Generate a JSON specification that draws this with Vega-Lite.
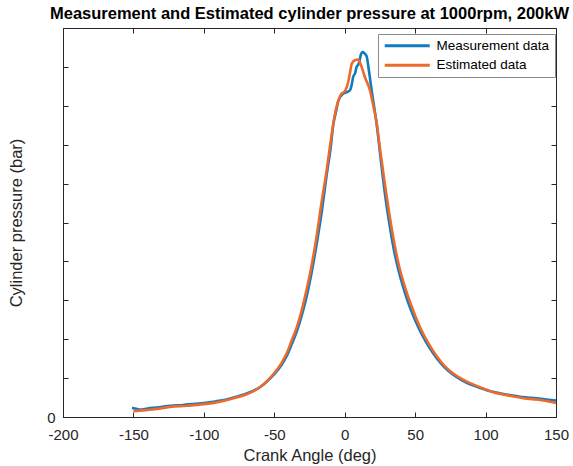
{
  "$schema": "https://vega.github.io/schema/vega-lite/v6.json",
  "autosize": {"type": "none"},
  "width": 493,
  "height": 389,
  "padding": {"left": 63, "top": 28, "right": 17, "bottom": 49},
  "background": "white",
  "title": {
    "text": "Measurement and Estimated cylinder pressure at 1000rpm, 200kW",
    "font": "Liberation Sans",
    "fontSize": 16.5,
    "fontWeight": "bold",
    "color": "black",
    "anchor": "middle",
    "offset": 5.5
  },
  "config": {
    "view": {"stroke": "#262626", "strokeWidth": 1},
    "axis": {
      "grid": false,
      "minExtent": 0,
      "domainColor": "#262626",
      "tickColor": "#262626",
      "labelColor": "#262626",
      "titleColor": "#262626",
      "labelFont": "Liberation Sans",
      "titleFont": "Liberation Sans",
      "labelFontSize": 15,
      "titleFontSize": 16.5,
      "titleFontWeight": "normal",
      "labelFlush": false,
      "labelOverlap": false
    }
  },
  "data": {
    "values": [
      {"angle": -151, "pressure": 0.24, "series": "Measurement data"},
      {"angle": -148, "pressure": 0.21, "series": "Measurement data"},
      {"angle": -145, "pressure": 0.19, "series": "Measurement data"},
      {"angle": -140, "pressure": 0.22, "series": "Measurement data"},
      {"angle": -132, "pressure": 0.25, "series": "Measurement data"},
      {"angle": -124, "pressure": 0.29, "series": "Measurement data"},
      {"angle": -115, "pressure": 0.31, "series": "Measurement data"},
      {"angle": -108, "pressure": 0.33, "series": "Measurement data"},
      {"angle": -100, "pressure": 0.36, "series": "Measurement data"},
      {"angle": -92, "pressure": 0.40, "series": "Measurement data"},
      {"angle": -84, "pressure": 0.45, "series": "Measurement data"},
      {"angle": -77, "pressure": 0.52, "series": "Measurement data"},
      {"angle": -70, "pressure": 0.60, "series": "Measurement data"},
      {"angle": -65, "pressure": 0.67, "series": "Measurement data"},
      {"angle": -60, "pressure": 0.77, "series": "Measurement data"},
      {"angle": -55, "pressure": 0.92, "series": "Measurement data"},
      {"angle": -50, "pressure": 1.10, "series": "Measurement data"},
      {"angle": -45, "pressure": 1.33, "series": "Measurement data"},
      {"angle": -41, "pressure": 1.58, "series": "Measurement data"},
      {"angle": -37.5, "pressure": 1.88, "series": "Measurement data"},
      {"angle": -34, "pressure": 2.20, "series": "Measurement data"},
      {"angle": -31, "pressure": 2.55, "series": "Measurement data"},
      {"angle": -28, "pressure": 2.95, "series": "Measurement data"},
      {"angle": -24, "pressure": 3.62, "series": "Measurement data"},
      {"angle": -20, "pressure": 4.43, "series": "Measurement data"},
      {"angle": -16, "pressure": 5.35, "series": "Measurement data"},
      {"angle": -12.9, "pressure": 6.20, "series": "Measurement data"},
      {"angle": -10, "pressure": 6.92, "series": "Measurement data"},
      {"angle": -8.2, "pressure": 7.50, "series": "Measurement data"},
      {"angle": -6, "pressure": 7.88, "series": "Measurement data"},
      {"angle": -4.6, "pressure": 8.12, "series": "Measurement data"},
      {"angle": -1.1, "pressure": 8.31, "series": "Measurement data"},
      {"angle": 1.5, "pressure": 8.35, "series": "Measurement data"},
      {"angle": 3.7, "pressure": 8.40, "series": "Measurement data"},
      {"angle": 5, "pressure": 8.55, "series": "Measurement data"},
      {"angle": 6, "pressure": 8.74, "series": "Measurement data"},
      {"angle": 7.5, "pressure": 8.85, "series": "Measurement data"},
      {"angle": 8.4, "pressure": 9.00, "series": "Measurement data"},
      {"angle": 9.5, "pressure": 9.05, "series": "Measurement data"},
      {"angle": 10.5, "pressure": 9.15, "series": "Measurement data"},
      {"angle": 11.5, "pressure": 9.32, "series": "Measurement data"},
      {"angle": 12.7, "pressure": 9.38, "series": "Measurement data"},
      {"angle": 14, "pressure": 9.35, "series": "Measurement data"},
      {"angle": 15.5, "pressure": 9.28, "series": "Measurement data"},
      {"angle": 17.2, "pressure": 8.90, "series": "Measurement data"},
      {"angle": 19.1, "pressure": 8.40, "series": "Measurement data"},
      {"angle": 22.6, "pressure": 7.55, "series": "Measurement data"},
      {"angle": 26.2, "pressure": 6.43, "series": "Measurement data"},
      {"angle": 29, "pressure": 5.62, "series": "Measurement data"},
      {"angle": 32, "pressure": 4.90, "series": "Measurement data"},
      {"angle": 35, "pressure": 4.28, "series": "Measurement data"},
      {"angle": 38, "pressure": 3.80, "series": "Measurement data"},
      {"angle": 41, "pressure": 3.40, "series": "Measurement data"},
      {"angle": 44, "pressure": 3.05, "series": "Measurement data"},
      {"angle": 48, "pressure": 2.66, "series": "Measurement data"},
      {"angle": 52, "pressure": 2.33, "series": "Measurement data"},
      {"angle": 55.7, "pressure": 2.06, "series": "Measurement data"},
      {"angle": 60, "pressure": 1.79, "series": "Measurement data"},
      {"angle": 65.3, "pressure": 1.51, "series": "Measurement data"},
      {"angle": 71, "pressure": 1.27, "series": "Measurement data"},
      {"angle": 77, "pressure": 1.09, "series": "Measurement data"},
      {"angle": 83, "pressure": 0.95, "series": "Measurement data"},
      {"angle": 89, "pressure": 0.84, "series": "Measurement data"},
      {"angle": 95, "pressure": 0.76, "series": "Measurement data"},
      {"angle": 100.8, "pressure": 0.69, "series": "Measurement data"},
      {"angle": 106, "pressure": 0.64, "series": "Measurement data"},
      {"angle": 112.6, "pressure": 0.59, "series": "Measurement data"},
      {"angle": 118, "pressure": 0.56, "series": "Measurement data"},
      {"angle": 124.4, "pressure": 0.52, "series": "Measurement data"},
      {"angle": 130, "pressure": 0.50, "series": "Measurement data"},
      {"angle": 136, "pressure": 0.48, "series": "Measurement data"},
      {"angle": 143, "pressure": 0.45, "series": "Measurement data"},
      {"angle": 150, "pressure": 0.42, "series": "Measurement data"},
      {"angle": -150, "pressure": 0.15, "series": "Estimated data"},
      {"angle": -143, "pressure": 0.17, "series": "Estimated data"},
      {"angle": -135, "pressure": 0.20, "series": "Estimated data"},
      {"angle": -124, "pressure": 0.26, "series": "Estimated data"},
      {"angle": -112, "pressure": 0.29, "series": "Estimated data"},
      {"angle": -100, "pressure": 0.33, "series": "Estimated data"},
      {"angle": -92, "pressure": 0.37, "series": "Estimated data"},
      {"angle": -84, "pressure": 0.43, "series": "Estimated data"},
      {"angle": -77, "pressure": 0.50, "series": "Estimated data"},
      {"angle": -70, "pressure": 0.58, "series": "Estimated data"},
      {"angle": -65, "pressure": 0.66, "series": "Estimated data"},
      {"angle": -60, "pressure": 0.77, "series": "Estimated data"},
      {"angle": -55, "pressure": 0.93, "series": "Estimated data"},
      {"angle": -50, "pressure": 1.13, "series": "Estimated data"},
      {"angle": -45, "pressure": 1.38, "series": "Estimated data"},
      {"angle": -41, "pressure": 1.65, "series": "Estimated data"},
      {"angle": -37.5, "pressure": 1.98, "series": "Estimated data"},
      {"angle": -34, "pressure": 2.31, "series": "Estimated data"},
      {"angle": -31, "pressure": 2.68, "series": "Estimated data"},
      {"angle": -28.3, "pressure": 3.08, "series": "Estimated data"},
      {"angle": -24, "pressure": 3.80, "series": "Estimated data"},
      {"angle": -20, "pressure": 4.63, "series": "Estimated data"},
      {"angle": -16.5, "pressure": 5.50, "series": "Estimated data"},
      {"angle": -13, "pressure": 6.30, "series": "Estimated data"},
      {"angle": -10, "pressure": 7.08, "series": "Estimated data"},
      {"angle": -6.4, "pressure": 7.88, "series": "Estimated data"},
      {"angle": -3, "pressure": 8.27, "series": "Estimated data"},
      {"angle": 0.5, "pressure": 8.40, "series": "Estimated data"},
      {"angle": 2.5, "pressure": 8.61, "series": "Estimated data"},
      {"angle": 3.7, "pressure": 8.84, "series": "Estimated data"},
      {"angle": 5, "pressure": 9.08, "series": "Estimated data"},
      {"angle": 7.2, "pressure": 9.17, "series": "Estimated data"},
      {"angle": 9.6, "pressure": 9.19, "series": "Estimated data"},
      {"angle": 12, "pressure": 9.00, "series": "Estimated data"},
      {"angle": 14.3, "pressure": 8.74, "series": "Estimated data"},
      {"angle": 17.9, "pressure": 8.40, "series": "Estimated data"},
      {"angle": 20, "pressure": 8.05, "series": "Estimated data"},
      {"angle": 22.6, "pressure": 7.58, "series": "Estimated data"},
      {"angle": 25, "pressure": 6.92, "series": "Estimated data"},
      {"angle": 28, "pressure": 6.12, "series": "Estimated data"},
      {"angle": 31, "pressure": 5.38, "series": "Estimated data"},
      {"angle": 34.4, "pressure": 4.63, "series": "Estimated data"},
      {"angle": 38, "pressure": 3.97, "series": "Estimated data"},
      {"angle": 41, "pressure": 3.55, "series": "Estimated data"},
      {"angle": 44, "pressure": 3.20, "series": "Estimated data"},
      {"angle": 48.6, "pressure": 2.74, "series": "Estimated data"},
      {"angle": 52, "pressure": 2.43, "series": "Estimated data"},
      {"angle": 55.7, "pressure": 2.14, "series": "Estimated data"},
      {"angle": 60, "pressure": 1.86, "series": "Estimated data"},
      {"angle": 65.3, "pressure": 1.56, "series": "Estimated data"},
      {"angle": 71, "pressure": 1.31, "series": "Estimated data"},
      {"angle": 77, "pressure": 1.12, "series": "Estimated data"},
      {"angle": 83, "pressure": 0.98, "series": "Estimated data"},
      {"angle": 89, "pressure": 0.87, "series": "Estimated data"},
      {"angle": 95, "pressure": 0.78, "series": "Estimated data"},
      {"angle": 100.8, "pressure": 0.70, "series": "Estimated data"},
      {"angle": 106, "pressure": 0.63, "series": "Estimated data"},
      {"angle": 112.6, "pressure": 0.58, "series": "Estimated data"},
      {"angle": 118, "pressure": 0.54, "series": "Estimated data"},
      {"angle": 124.4, "pressure": 0.50, "series": "Estimated data"},
      {"angle": 130, "pressure": 0.47, "series": "Estimated data"},
      {"angle": 136, "pressure": 0.45, "series": "Estimated data"},
      {"angle": 143, "pressure": 0.41, "series": "Estimated data"},
      {"angle": 150, "pressure": 0.36, "series": "Estimated data"}
    ]
  },
  "resolve": {"axis": {"x": "independent", "y": "independent"}},
  "layer": [
    {
      "transform": [{"filter": "datum.series === 'Measurement data'"}],
      "mark": {"type": "line", "strokeWidth": 2.6, "interpolate": "monotone"},
      "encoding": {
        "x": {
          "field": "angle", "type": "quantitative",
          "scale": {"domain": [-200, 150], "nice": false, "zero": false},
          "axis": {
            "orient": "bottom",
            "values": [-200, -150, -100, -50, 0, 50, 100, 150],
            "labelExpr": "'' + datum.value",
            "tickSize": -5,
            "labelPadding": 15,
            "title": "Crank Angle (deg)",
            "titleY": 38,
            "titleBaseline": "middle"
          }
        },
        "y": {
          "field": "pressure", "type": "quantitative",
          "scale": {"domain": [0, 10], "nice": false},
          "axis": {
            "orient": "left",
            "values": [0, 1, 2, 3, 4, 5, 6, 7, 8, 9],
            "labelExpr": "datum.value === 0 ? '0' : ''",
            "tickSize": -5,
            "labelPadding": 13,
            "title": "Cylinder pressure (bar)",
            "titleX": -47,
            "titleY": 194.5,
            "titleAngle": -90,
            "titleBaseline": "middle",
            "titleAnchor": "middle"
          }
        },
        "color": {
          "field": "series", "type": "nominal",
          "scale": {"domain": ["Measurement data", "Estimated data"], "range": ["#0F7BC0", "#EC6A2C"]},
          "legend": {
            "orient": "none",
            "legendX": 315,
            "legendY": 6,
            "title": null,
            "fillColor": "white",
            "strokeColor": "#8a8a8a",
            "padding": 5,
            "symbolType": "M-1,0H8",
            "symbolSize": 100,
            "symbolStrokeWidth": 3,
            "labelFont": "Liberation Sans",
            "labelFontSize": 13.5,
            "labelColor": "black",
            "labelOffset": 40,
            "rowPadding": 4.5
          }
        }
      }
    },
    {
      "transform": [{"filter": "datum.series === 'Estimated data'"}],
      "mark": {"type": "line", "strokeWidth": 2.6, "interpolate": "monotone"},
      "encoding": {
        "x": {
          "field": "angle", "type": "quantitative",
          "axis": {
            "orient": "top",
            "values": [-200, -150, -100, -50, 0, 50, 100, 150],
            "tickSize": -5,
            "labels": false,
            "domain": false,
            "title": null
          }
        },
        "y": {
          "field": "pressure", "type": "quantitative",
          "axis": {
            "orient": "right",
            "values": [0, 1, 2, 3, 4, 5, 6, 7, 8, 9],
            "tickSize": -5,
            "labels": false,
            "domain": false,
            "title": null
          }
        },
        "color": {"field": "series", "type": "nominal"}
      }
    }
  ]
}
